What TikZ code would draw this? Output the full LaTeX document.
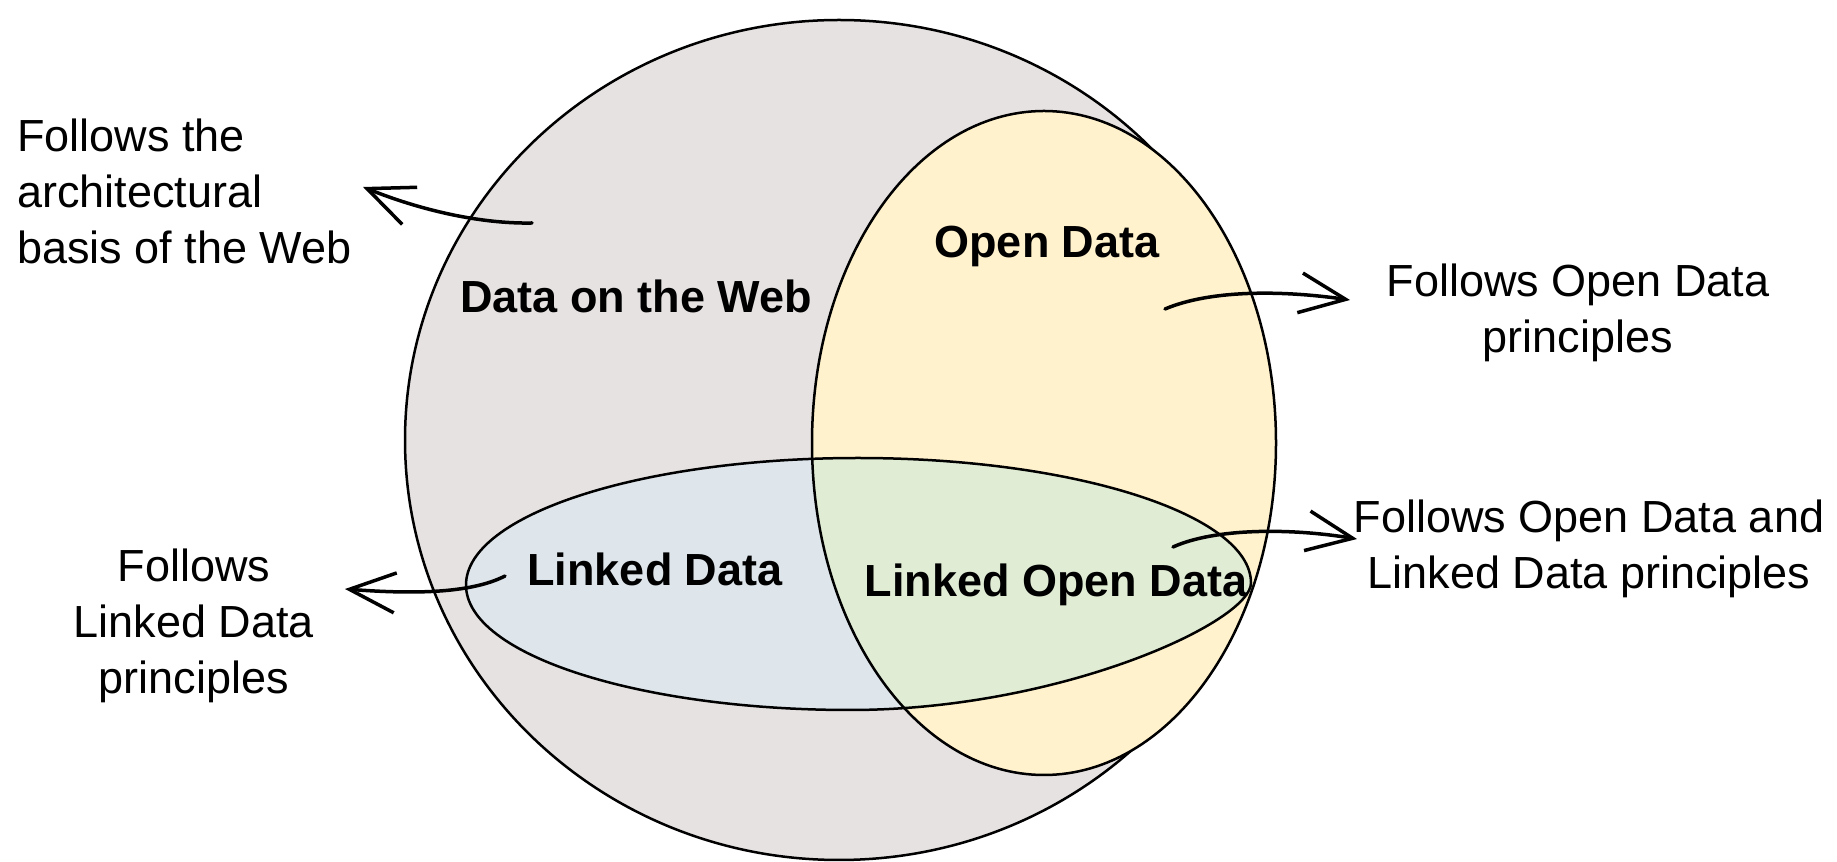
\documentclass[tikz,border=0pt]{standalone}
\usepackage{fontspec}
\setmainfont{Liberation Sans}
\usetikzlibrary{arrows.meta}
\definecolor{webgray}{RGB}{230,226,225}
\definecolor{openyellow}{RGB}{255,242,204}
\definecolor{linkedblue}{RGB}{222,230,236}
\definecolor{lodgreen}{RGB}{224,236,212}
\begin{document}
\begin{tikzpicture}[x=1pt,y=1pt,
	venn/.style={draw=black,line width=2.5pt},
	setlabel/.style={font=\fontsize{45}{56}\selectfont\bfseries,anchor=base,inner sep=0pt},
	notetext/.style={font=\fontsize{45}{56}\selectfont,inner sep=0pt},
	notearrow/.style={line width=3.5pt,line cap=round,-{Straight Barb[length=46pt,width=40pt]}}]
	\fill[white] (0,0) rectangle (1837,862);
	\useasboundingbox (0,0) rectangle (1837,862);

	% the sets
	\fill[webgray] (839,422) ellipse [x radius=434,y radius=420];
	\draw[venn] (839,422) ellipse [x radius=434,y radius=420];
	\fill[openyellow] (1044,419) ellipse [x radius=232,y radius=332];
	\fill[linkedblue] (466,277) .. controls (466,347) and (641,404) .. (858,404)
		.. controls (1075,404) and (1251,347) .. (1251,279)
		.. controls (1251,240) and (1060,152) .. (850,152)
		.. controls (640,152) and (466,207) .. (466,277) -- cycle;
	\begin{scope}
		\clip (1044,419) ellipse [x radius=232,y radius=332];
		\fill[lodgreen] (466,277) .. controls (466,347) and (641,404) .. (858,404)
			.. controls (1075,404) and (1251,347) .. (1251,279)
			.. controls (1251,240) and (1060,152) .. (850,152)
			.. controls (640,152) and (466,207) .. (466,277) -- cycle;
	\end{scope}
	\draw[venn] (1044,419) ellipse [x radius=232,y radius=332];
	\draw[venn] (466,277) .. controls (466,347) and (641,404) .. (858,404)
		.. controls (1075,404) and (1251,347) .. (1251,279)
		.. controls (1251,240) and (1060,152) .. (850,152)
		.. controls (640,152) and (466,207) .. (466,277) -- cycle;

	\node[setlabel] (web) at (636,549) {Data on the Web};
	\node[setlabel] (open) at (1047,604) {Open Data};
	\node[setlabel] (linked) at (655,276) {Linked Data};
	\node[setlabel] (lod) at (1056,265) {Linked Open Data};

	% notes
	\node[notetext,align=left,anchor=north west] (webnote) at (17,743)
		{Follows the\\architectural\\basis of the Web};
	\node[notetext,align=center,anchor=north] (opennote) at (1578,598)
		{Follows Open Data\\principles};
	\node[notetext,align=center,anchor=north] (lodnote) at (1589,362)
		{Follows Open Data and\\Linked Data principles};
	\node[notetext,align=center,anchor=north] (linkednote) at (194,313)
		{Follows\\Linked Data\\principles};

	% arrows
	\coordinate (webfrom) at (532,639);
	\coordinate (webto) at (363,675);
	\coordinate (openfrom) at (1165,553);
	\coordinate (opento) at (1350,562);
	\coordinate (lodfrom) at (1173,315);
	\coordinate (lodto) at (1357,323);
	\coordinate (linkedfrom) at (505,286);
	\coordinate (linkedto) at (345,273);
	\draw[notearrow] (webfrom) .. controls (480,638) and (420,652) .. (webto);
	\draw[notearrow] (openfrom) .. controls (1210,572) and (1280,572) .. (opento);
	\draw[notearrow] (lodfrom) .. controls (1215,334) and (1290,334) .. (lodto);
	\draw[notearrow] (linkedfrom) .. controls (470,268) and (410,268) .. (linkedto);
\end{tikzpicture}
\end{document}
